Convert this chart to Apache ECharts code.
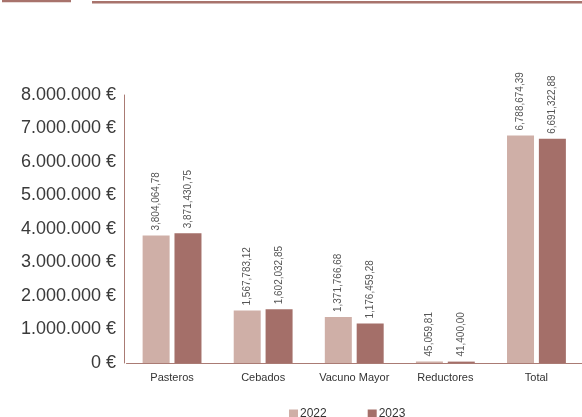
<!DOCTYPE html>
<html>
<head>
<meta charset="utf-8">
<script src="https://cdn.jsdelivr.net/npm/echarts@6/dist/echarts.min.js"></script>
<style>
html,body{margin:0;padding:0;background:#fff;}
#chart{width:582px;height:417px;}
</style>
</head>
<body>
<div id="chart"></div>
<script>
var categories = ['Pasteros', 'Cebados', 'Vacuno Mayor', 'Reductores', 'Total'];
var seriesNames = ['2022', '2023'];
var values2022 = [3804064.78, 1567783.12, 1371766.68, 45059.81, 6788674.39];
var values2023 = [3871430.75, 1602032.85, 1176459.28, 41400.00, 6691322.88];
var yMax = 8000000;
var yInterval = 1000000;

function groupInt(s, sep) {
  return s.replace(/\B(?=(\d{3})+(?!\d))/g, sep);
}
function fmtBar(v) {
  var p = v.toFixed(2).split('.');
  return groupInt(p[0], ',') + ',' + p[1];
}
function fmtAxis(v) {
  return groupInt(String(Math.round(v)), '.') + ' €';
}

var font = 'Liberation Sans, Helvetica, Arial, sans-serif';
var axisColor = '#aa7b74';
var colors = ['#cfafa7', '#a46f69'];

var chart = echarts.init(document.getElementById('chart'), null, {renderer: 'canvas'});

function makeSeries(name, data, color) {
  return {
    name: name,
    type: 'bar',
    data: data,
    barWidth: 27,
    barGap: '18%',
    itemStyle: {color: color},
    label: {
      show: true,
      position: 'top',
      rotate: 90,
      align: 'left',
      verticalAlign: 'middle',
      distance: 5,
      fontFamily: font,
      fontSize: 10,
      color: '#555',
      formatter: function (p) { return fmtBar(p.value); }
    }
  };
}

chart.setOption({
  animation: false,
  color: colors,
  graphic: [
    {type: 'rect', shape: {x: 2, y: 0, width: 69, height: 2.2}, style: {fill: '#a8736c'}},
    {type: 'rect', shape: {x: 92, y: 1, width: 490, height: 2.5}, style: {fill: '#a8736c'}}
  ],
  grid: {left: 126.5, right: -10, top: 95, bottom: 54, containLabel: false},
  legend: {
    data: seriesNames,
    left: 284,
    top: 403,
    itemWidth: 9,
    itemHeight: 9,
    itemGap: 41,
    icon: 'rect',
    textStyle: {fontFamily: font, fontSize: 12, color: '#333', padding: [0, 0, 0, -3]}
  },
  xAxis: {
    type: 'category',
    data: categories,
    axisLine: {show: true, lineStyle: {color: axisColor, width: 1}},
    axisTick: {show: false},
    axisLabel: {interval: 0, fontFamily: font, fontSize: 11, color: '#333', margin: 9}
  },
  yAxis: {
    type: 'value',
    min: 0,
    max: yMax,
    interval: yInterval,
    offset: 2.5,
    axisLine: {show: true, lineStyle: {color: axisColor, width: 1}},
    axisTick: {show: false},
    splitLine: {show: false},
    axisLabel: {fontFamily: font, fontSize: 18, color: '#3a3a3a', margin: 8, formatter: fmtAxis}
  },
  series: [
    makeSeries(seriesNames[0], values2022, colors[0]),
    makeSeries(seriesNames[1], values2023, colors[1])
  ]
});
</script>
</body>
</html>
